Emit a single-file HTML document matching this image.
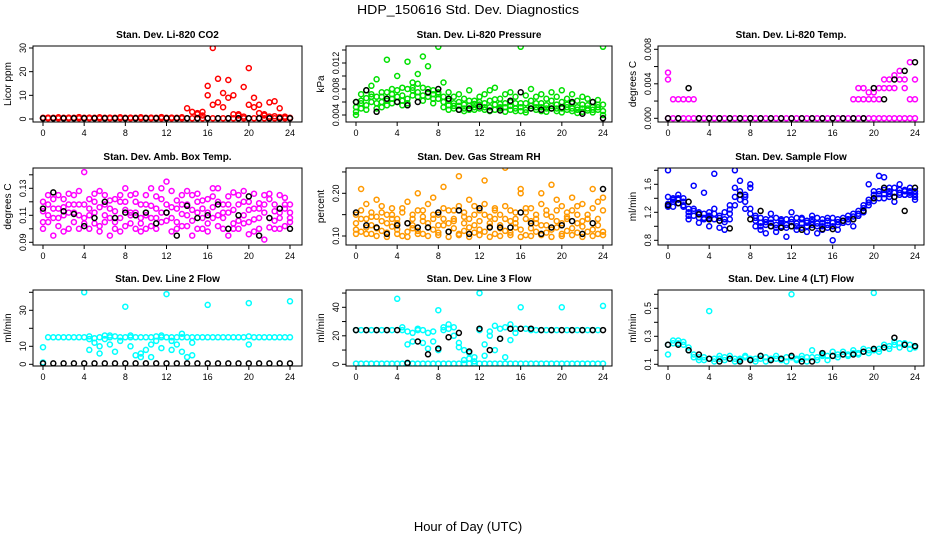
<!DOCTYPE html>
<html><head><meta charset="utf-8"><style>
body{margin:0;background:#fff;}
svg{display:block;font-family:"Liberation Sans",sans-serif;}
</style></head><body>
<svg id="chart" width="936" height="540" viewBox="0 0 936 540" xmlns="http://www.w3.org/2000/svg">
<rect width="936" height="540" fill="#fff"/>
<text x="468" y="14" text-anchor="middle" font-size="13" textLength="222" lengthAdjust="spacingAndGlyphs">HDP_150616  Std. Dev. Diagnostics</text>
<text x="468" y="531" text-anchor="middle" font-size="13">Hour of Day (UTC)</text>
</svg>
<script>
// shared hour grids
const hoursHalf = [0,0.5,1,1.5,2,2.5,3,3.5,4,4.5,5,5.5,6,6.5,7,7.5,8,8.5,9,9.5,10,10.5,11,11.5,12,12.5,13,13.5,14,14.5,15,15.5,16,16.5,17,17.5,18,18.5,19,19.5,20,20.5,21,21.5,22,22.5,23,23.5,24];
const hoursFull = [0,1,2,3,4,5,6,7,8,9,10,11,12,13,14,15,16,17,18,19,20,21,22,23,24];
const xTicks = [0,4,8,12,16,20,24];

// P1 CO2
const co2A = [0.3,0.3,0.3,0.3,0.3,0.3,0.3,0.3,0.3,0.3,0.3,0.3,0.3,0.3,0.3,0.3,0.3,0.3,0.3,0.3,0.3,0.3,0.3,0.3,0.3,0.3,0.3,0.3,0.3,0.3,0.3,0.3,0.3,0.3,0.3,0.3,0.3,0.3,0.3,0.3,0.3,0.3,0.3,0.3,0.3,0.3,0.3,0.3,0.3];
const co2B = [0.5,0.6,0.5,0.7,0.5,0.6,0.5,0.8,0.5,0.6,0.5,0.7,0.5,0.6,0.5,0.7,0.5,0.6,0.5,0.7,0.5,0.6,0.5,0.8,0.5,0.6,0.5,0.7,4.5,3,2,3,14,30,17,11,16.5,10,2,13.5,21.5,9,6,2,7,7.5,4.5,1,0.5];
const co2C = [null,null,null,null,null,null,null,null,null,null,null,null,null,null,null,null,null,null,null,null,null,null,null,null,null,null,null,null,null,null,2.5,1.5,10,6,7,5,9,2,1.5,1,6,5,2.5,1.5,1,1.2,0.8,0.5,null];
const co2K = [0.3,0.3,0.3,0.3,0.3,0.3,0.3,0.3,0.3,0.3,0.3,0.3,0.3,0.3,0.3,0.3,0.3,0.3,0.3,0.3,0.3,0.3,0.3,0.3,0.3];
const co2Ticks = [0,10,20,30];
const co2Labels = ["0","10","20","30"];

// P2 pressure
const presA = [0.0045,0.005,0.0055,0.006,0.005,0.006,0.0055,0.0065,0.006,0.0055,0.0065,0.007,0.0075,0.007,0.0068,0.0065,0.0065,0.006,0.0055,0.005,0.0048,0.005,0.0048,0.0052,0.005,0.0048,0.0046,0.0048,0.005,0.0045,0.0048,0.005,0.0046,0.0048,0.005,0.0048,0.0046,0.0045,0.005,0.0046,0.0044,0.0048,0.0046,0.0043,0.0045,0.0047,0.0044,0.0048,0.0046];
const presB = [0.006,0.0072,0.0078,0.0085,0.0095,0.0075,0.0125,0.008,0.01,0.0082,0.0122,0.009,0.0103,0.013,0.0115,0.0078,0.0145,0.009,0.0075,0.0068,0.0072,0.0065,0.0078,0.0062,0.0068,0.0072,0.0078,0.0082,0.0065,0.0072,0.0075,0.0068,0.0145,0.007,0.008,0.0068,0.0072,0.0065,0.0075,0.0068,0.0078,0.0065,0.0072,0.0062,0.0068,0.0065,0.006,0.0063,0.0145];
const presC = [0.0052,0.0062,0.0066,0.0072,0.0068,0.0068,0.0075,0.0072,0.0078,0.007,0.008,0.0082,0.0088,0.0082,0.008,0.0072,0.0075,0.0068,0.0062,0.0058,0.006,0.0056,0.0062,0.0057,0.006,0.0058,0.0062,0.0064,0.0057,0.0058,0.006,0.0058,0.0058,0.0058,0.0062,0.0058,0.0058,0.0055,0.0062,0.0056,0.006,0.0056,0.0058,0.0052,0.0056,0.0055,0.0052,0.0056,0.0056];
const presD = [0.004,0.0058,0.0048,0.0068,0.0058,0.0052,0.0062,0.0058,0.0068,0.0062,0.0058,0.0078,0.0068,0.0062,0.0074,0.0058,0.0072,0.0052,0.0048,0.0054,0.0054,0.0046,0.0054,0.0048,0.0056,0.0052,0.0052,0.0056,0.0052,0.0052,0.0054,0.0046,0.0052,0.0044,0.0054,0.0052,0.0052,0.005,0.0054,0.005,0.005,0.0052,0.005,0.0048,0.005,0.005,0.0048,0.0052,0.004];
const presK = [0.006,0.0078,0.0045,0.0065,0.006,0.0055,0.006,0.0075,0.008,0.0065,0.0048,0.005,0.0053,0.0047,0.0047,0.0062,0.0075,0.005,0.0048,0.005,0.0052,0.006,0.0042,0.006,0.0035];
const presTicks = [0.004,0.006,0.008,0.010,0.012,0.014];
const presLabels = ["0.004","","0.008","","0.012",""];

// P3 Li-820 temp
const tempA = [0,0,0,0,0,0,0,0,0,0,0,0,0,0,0,0,0,0,0,0,0,0,0,0,0,0,0,0,0,0,0,0,0,0,0,0,0,0,0,0,0,0,0,0,0,0,0,0,0];
const tempB = [0.0045,0.0022,0.0022,0.0022,0.0022,0.0022,null,null,null,null,null,null,null,null,null,null,null,null,null,null,null,null,null,null,null,null,null,null,null,null,null,null,null,null,null,null,null,0.0022,0.0022,0.003,0.003,0.0035,0.0045,0.0045,0.005,0.0055,0.0045,0.0065,0.0022];
const tempC = [0.0053,null,null,null,null,null,null,null,null,null,null,null,null,null,null,null,null,null,null,null,null,null,null,null,null,null,null,null,null,null,null,null,null,null,null,null,0.0022,0.0035,0.0035,0.0022,0.0022,0.0022,0.0035,0.0035,0.0035,0.0045,0.0035,0.0022,0.0045];
const tempK = [0,0,0.0035,0,0,0,0,0,0,0,0,0,0,0,0,0,0,0,0,0,0.0035,0.0022,0.0045,0.0055,0.0065];
const tempTicks = [0,0.002,0.004,0.006,0.008];
const tempLabels = ["0.000","","0.004","","0.008"];

// P4 amb box temp
const ambA = [0.12,0.105,0.115,0.125,0.11,0.1,0.118,0.128,0.108,0.122,0.112,0.098,0.125,0.115,0.105,0.12,0.13,0.11,0.1,0.118,0.125,0.108,0.115,0.122,0.112,0.128,0.105,0.118,0.11,0.125,0.1,0.115,0.122,0.108,0.13,0.112,0.118,0.104,0.125,0.11,0.12,0.098,0.115,0.125,0.108,0.118,0.112,0.102,0.118];
const ambB = [0.1,0.125,0.095,0.108,0.122,0.118,0.105,0.11,0.142,0.1,0.12,0.128,0.105,0.095,0.122,0.108,0.102,0.125,0.12,0.098,0.11,0.13,0.1,0.105,0.135,0.098,0.115,0.102,0.128,0.095,0.12,0.108,0.098,0.124,0.102,0.118,0.095,0.127,0.1,0.12,0.105,0.115,0.1,0.092,0.122,0.1,0.125,0.118,0.108];
const ambC = [0.113,0.118,0.108,0.102,0.116,0.126,0.112,0.1,0.118,0.115,0.104,0.116,0.11,0.121,0.113,0.098,0.114,0.104,0.112,0.108,0.1,0.117,0.124,0.112,0.106,0.116,0.121,0.111,0.102,0.114,0.112,0.121,0.104,0.116,0.11,0.1,0.124,0.114,0.106,0.128,0.096,0.107,0.119,0.112,0.101,0.113,0.108,0.115,0.112];
const ambD = [0.105,0.11,0.122,0.115,0.098,0.112,0.125,0.118,0.104,0.11,0.126,0.102,0.118,0.108,0.1,0.125,0.12,0.112,0.126,0.104,0.118,0.102,0.108,0.13,0.118,0.108,0.1,0.125,0.118,0.106,0.126,0.1,0.112,0.13,0.12,0.108,0.112,0.1,0.118,0.104,0.114,0.126,0.108,0.118,0.126,0.106,0.1,0.123,0.105];
const ambK = [0.115,0.127,0.113,0.111,0.102,0.108,0.12,0.108,0.112,0.11,0.112,0.104,0.112,0.095,0.117,0.108,0.11,0.118,0.1,0.11,0.124,0.095,0.108,0.115,0.1];
const ambTicks = [0.09,0.10,0.11,0.12,0.13,0.14];
const ambLabels = ["0.09","","0.11","","0.13",""];

// P5 gas stream RH
const rhA = [0.115,0.11,0.12,0.105,0.118,0.112,0.108,0.122,0.115,0.1,0.11,0.118,0.112,0.105,0.12,0.115,0.108,0.125,0.11,0.118,0.105,0.112,0.12,0.108,0.115,0.11,0.122,0.105,0.118,0.112,0.108,0.12,0.115,0.102,0.118,0.11,0.125,0.108,0.115,0.12,0.105,0.112,0.118,0.108,0.122,0.11,0.115,0.105,0.11];
const rhB = [0.15,0.16,0.175,0.155,0.145,0.17,0.15,0.165,0.14,0.155,0.18,0.15,0.16,0.145,0.175,0.19,0.15,0.165,0.16,0.14,0.17,0.155,0.185,0.15,0.16,0.175,0.145,0.165,0.15,0.17,0.16,0.14,0.2,0.155,0.165,0.15,0.175,0.16,0.145,0.185,0.17,0.155,0.16,0.15,0.175,0.14,0.165,0.18,0.16];
const rhC = [0.13,0.21,0.14,0.125,0.185,0.135,0.13,0.14,0.13,0.27,0.13,0.125,0.2,0.135,0.13,0.14,0.125,0.215,0.13,0.135,0.24,0.13,0.14,0.125,0.135,0.23,0.13,0.14,0.125,0.26,0.135,0.13,0.21,0.14,0.135,0.13,0.2,0.125,0.22,0.135,0.13,0.14,0.19,0.13,0.135,0.14,0.21,0.125,0.19];
const rhD = [0.105,0.14,0.105,0.145,0.1,0.155,0.098,0.15,0.105,0.165,0.098,0.14,0.105,0.16,0.1,0.15,0.102,0.14,0.098,0.16,0.102,0.145,0.098,0.17,0.102,0.15,0.098,0.16,0.1,0.14,0.102,0.155,0.098,0.165,0.1,0.14,0.102,0.15,0.098,0.16,0.1,0.145,0.102,0.17,0.098,0.15,0.1,0.14,0.102];
const rhK = [0.155,0.125,0.12,0.105,0.125,0.13,0.12,0.12,0.155,0.11,0.16,0.105,0.165,0.12,0.12,0.12,0.155,0.13,0.105,0.12,0.125,0.135,0.105,0.13,0.21];
const rhTicks = [0.10,0.15,0.20,0.25];
const rhLabels = ["0.10","","0.20",""];

// P6 sample flow
const sfA = [1.32,1.35,1.33,1.3,1.2,1.15,1.12,1.1,1.12,1.1,1.08,1.1,1.18,1.3,1.38,1.35,1.25,1.08,1.05,1.02,1.0,1.02,1.0,0.98,1.0,1.0,0.98,1.0,1.02,1.0,1.0,0.98,1.0,1.02,1.05,1.06,1.1,1.15,1.22,1.3,1.36,1.4,1.4,1.42,1.42,1.45,1.45,1.45,1.42];
const sfB = [1.42,1.4,1.38,1.4,1.25,1.22,1.2,1.18,1.2,1.25,1.15,1.2,1.3,1.55,1.5,1.45,1.55,1.15,1.12,1.1,1.1,1.12,1.08,1.1,1.1,1.12,1.1,1.08,1.1,1.12,1.1,1.08,1.12,1.1,1.12,1.15,1.18,1.22,1.3,1.38,1.45,1.5,1.52,1.5,1.55,1.52,1.52,1.5,1.5];
const sfC = [1.8,1.28,1.45,1.35,1.1,1.58,1.05,1.48,1.0,1.75,0.98,0.95,1.1,1.8,1.65,1.25,1.6,1.0,0.95,0.9,1.18,0.92,1.1,0.85,1.2,0.95,1.12,0.92,1.15,0.9,0.95,1.12,0.8,0.95,1.05,1.1,1.0,1.15,1.2,1.6,1.5,1.72,1.7,1.55,1.35,1.6,1.45,1.55,1.38];
const sfD = [1.28,1.38,1.4,1.28,1.15,1.25,1.18,1.12,1.15,1.18,1.12,1.06,1.24,1.42,1.45,1.42,1.18,1.12,1.0,1.06,1.05,0.98,1.05,1.02,1.06,1.04,1.04,1.05,1.06,1.04,1.05,1.02,1.05,1.06,1.08,1.1,1.14,1.18,1.26,1.34,1.4,1.46,1.46,1.46,1.48,1.48,1.5,1.48,1.46];
const sfK = [1.3,1.33,1.35,1.17,1.1,1.08,0.97,1.45,1.1,1.22,1.0,0.98,1.0,0.95,0.98,0.96,0.96,1.08,1.1,1.22,1.4,1.55,1.42,1.22,1.55];
const sfTicks = [0.8,1.0,1.2,1.4,1.6,1.8];
const sfLabels = ["0.8","","1.2","","1.6",""];

// P7 line 2 flow
const l2A = [9.5,15,15,15,15,15,15,15,15,15.5,14.5,15,16,15,15.5,15,15,15,15,15,15,15,15.5,16,15,15,15,15,15,15,15,15,15,15,15,15,15,15,15,15,15.5,15,15,15,15,15,15,15,15];
const l2B = [1,null,null,null,null,null,null,null,40,8,12,6,14,11,7,13,32,10,5,4,8,11,13,9,39,8,11,7,4,12,null,null,33,null,null,null,null,null,null,null,34,null,null,null,null,null,null,null,35];
const l2C = [null,null,null,null,null,null,null,null,null,14,null,10,null,16,null,null,null,16,null,6,null,4,null,15,null,13,null,17,null,5,null,null,null,null,null,null,null,null,null,null,11,null,null,null,null,null,null,null,null];
const l2K = [0.5,0.5,0.5,0.5,0.5,0.5,0.5,0.5,0.5,0.5,0.5,0.5,0.5,0.5,0.5,0.5,0.5,0.5,0.5,0.5,0.5,0.5,0.5,0.5,0.5];
const l2Ticks = [0,10,20,30,40];
const l2Labels = ["0","10","","30",""];

// P8 line 3 flow
const l3A = [0.5,0.5,0.5,0.5,0.5,0.5,0.5,0.5,0.5,0.5,0.5,0.5,0.5,0.5,0.5,0.5,0.5,0.5,0.5,0.5,0.5,0.5,0.5,0.5,0.5,0.5,0.5,0.5,0.5,0.5,0.5,0.5,0.5,0.5,0.5,0.5,0.5,0.5,0.5,0.5,0.5,0.5,0.5,0.5,0.5,0.5,0.5,0.5,0.5];
const l3B = [24,24,24,24,24,24,24,24,46,24,14,16,24,15,22,16,38,24,25,26,12,10,8,5,50,6,20,27,25,5,28,22,40,25,24,24,24,24,24,24,40,24,24,24,24,24,24,24,41];
const l3C = [null,null,null,null,null,null,null,null,null,26,23,22,25,24,11,23,10,26,28,20,15,3,4,2,24,14,23,10,18,26,17,25,null,null,null,null,null,null,null,null,null,null,null,null,null,null,null,null,null];
const l3K = [24,24,24,24,24,1,16,7,11,19,22,9,25,10,18,25,25,25,24,24,24,24,24,24,24];
const l3Ticks = [0,10,20,30,40,50];
const l3Labels = ["0","","20","","40",""];

// P9 line 4 flow
const l4A = [0.17,0.25,0.25,0.24,0.2,0.17,0.15,0.15,0.14,0.14,0.14,0.15,0.14,0.14,0.14,0.15,0.14,0.14,0.14,0.15,0.14,0.14,0.14,0.15,0.15,0.14,0.14,0.15,0.15,0.15,0.16,0.16,0.16,0.17,0.17,0.17,0.18,0.18,0.19,0.2,0.2,0.21,0.22,0.23,0.24,0.25,0.24,0.24,0.23];
const l4B = [0.24,0.27,0.27,0.26,0.22,0.15,0.13,0.13,0.48,0.12,0.16,0.13,0.16,0.12,0.13,0.16,0.13,0.12,0.16,0.12,0.13,0.16,0.13,0.12,0.6,0.13,0.16,0.12,0.2,0.13,0.17,0.13,0.19,0.15,0.19,0.16,0.2,0.17,0.21,0.18,0.61,0.19,0.24,0.21,0.26,0.22,0.25,0.21,0.22];
const l4K = [0.24,0.24,0.2,0.17,0.14,0.12,0.14,0.12,0.13,0.16,0.13,0.14,0.16,0.12,0.12,0.18,0.16,0.17,0.17,0.19,0.21,0.22,0.29,0.24,0.23];
const l4Ticks = [0.1,0.2,0.3,0.4,0.5,0.6];
const l4Labels = ["0.1","","0.3","","0.5",""];

const panels = [
 {id:'co2',title:'Stan. Dev. Li-820 CO2',yt:'Licor ppm',col:0,row:0,v0:0,p0:119,v1:30,p1:48,color:'#ff0000',series:[co2A,co2B,co2C],k:co2K,ticks:co2Ticks,labels:co2Labels},
 {id:'pressure',title:'Stan. Dev. Li-820 Pressure',yt:'kPa',col:1,row:0,v0:0.004,p0:115,v1:0.012,p1:63,color:'#00e000',series:[presA,presC,presD,presB],k:presK,ticks:presTicks,labels:presLabels},
 {id:'li820-temp',title:'Stan. Dev. Li-820 Temp.',yt:'degrees C',col:2,row:0,v0:0,p0:118.3,v1:0.008,p1:49.3,color:'#ff00ff',series:[tempA,tempB,tempC],k:tempK,ticks:tempTicks,labels:tempLabels},
 {id:'amb-box-temp',title:'Stan. Dev. Amb. Box Temp.',yt:'degrees C',col:0,row:1,v0:0.09,p0:242.3,v1:0.13,p1:188.3,color:'#ff00ff',series:[ambA,ambB,ambC,ambD],k:ambK,ticks:ambTicks,labels:ambLabels},
 {id:'gas-stream-rh',title:'Stan. Dev. Gas Stream RH',yt:'percent',col:1,row:1,v0:0.10,p0:236,v1:0.20,p1:193.3,color:'#ff9900',series:[rhA,rhB,rhC,rhD],k:rhK,ticks:rhTicks,labels:rhLabels},
 {id:'sample-flow',title:'Stan. Dev. Sample Flow',yt:'ml/min',col:2,row:1,v0:0.8,p0:240.3,v1:1.6,p1:184.3,color:'#0000ff',series:[sfA,sfB,sfC,sfD],k:sfK,ticks:sfTicks,labels:sfLabels},
 {id:'line2-flow',title:'Stan. Dev. Line 2 Flow',yt:'ml/min',col:0,row:2,v0:0,p0:364.3,v1:30,p1:310.3,color:'#00ffff',series:[l2A,l2B,l2C],k:l2K,ticks:l2Ticks,labels:l2Labels},
 {id:'line3-flow',title:'Stan. Dev. Line 3 Flow',yt:'ml/min',col:1,row:2,v0:0,p0:364.3,v1:40,p1:307.3,color:'#00ffff',series:[l3A,l3B,l3C],k:l3K,ticks:l3Ticks,labels:l3Labels},
 {id:'line4-flow',title:'Stan. Dev. Line 4 (LT) Flow',yt:'ml/min',col:2,row:2,v0:0.1,p0:364.3,v1:0.5,p1:308.3,color:'#00ffff',series:[l4A,l4B],k:l4K,ticks:l4Ticks,labels:l4Labels}
];
const boxLefts=[33,346,658], boxRights=[302,612,924];
const boxTops=[46,168,290], boxBottoms=[122,245,366];
const NS='http://www.w3.org/2000/svg';
const svg=document.getElementById('chart');
function mk(tag,attrs,parent){const e=document.createElementNS(NS,tag);for(const k in attrs)e.setAttribute(k,attrs[k]);(parent||svg).appendChild(e);return e;}

panels.forEach(p=>{
  const L=boxLefts[p.col],R=boxRights[p.col],T=boxTops[p.row],B=boxBottoms[p.row];
  const x0=L+10,x24=L+257;
  const xs=h=>x0+(x24-x0)*h/24;
  const ys=v=>p.p0+(v-p.v0)*(p.p1-p.p0)/(p.v1-p.v0);
  const g=mk('g',{});
  
  
  const t=mk('text',{x:(L+R)/2,y:T-8,'text-anchor':'middle','font-size':'10','font-weight':'bold'},g);
  
  
  t.textContent=p.title;
  const yt=mk('text',{x:0,y:0,'text-anchor':'middle','font-size':'10',transform:`translate(${L-22},${(T+B)/2}) rotate(-90)`},g);
  
  
  yt.textContent=p.yt;
  const cp=mk('clipPath',{id:'clip-'+p.id},g);
  mk('rect',{x:L,y:T,width:R-L,height:B-T},cp);
  const marks=mk('g',{'clip-path':`url(#clip-${p.id})`},g);
  
  
  p.series.forEach((arr,si)=>{
    arr.forEach((v,i)=>{
      if(v===null)return;
      const c=mk('circle',{cx:xs(hoursHalf[i]).toFixed(1),cy:ys(v).toFixed(1),r:2.5,fill:'none',stroke:p.color,'stroke-width':1.5},marks);
      
      
    });
  });
  p.k.forEach((v,i)=>{
    const c=mk('circle',{cx:xs(hoursFull[i]).toFixed(1),cy:ys(v).toFixed(1),r:2.5,fill:'none',stroke:'#000','stroke-width':1.5},marks);
    
    
  });
  const box=mk('rect',{x:L,y:T,width:R-L,height:B-T,fill:'none',stroke:'#000','stroke-width':1},g);
  
  
  const ax=mk('g',{},g);
  
  
  xTicks.forEach(h=>{
    const x=xs(h);
    mk('line',{x1:x,x2:x,y1:B,y2:B+4,stroke:'#000'},ax);
    const lb=mk('text',{x:x,y:B+14,'text-anchor':'middle','font-size':'9'},ax);
    
    
    lb.textContent=String(h);
  });
  const ay=mk('g',{},g);
  
  
  p.ticks.forEach((v,i)=>{
    const y=ys(v);
    mk('line',{x1:L-4,x2:L,y1:y,y2:y,stroke:'#000'},ay);
    if(p.labels[i]){
      const lb=mk('text',{x:0,y:0,'text-anchor':'middle','font-size':'9',transform:`translate(${L-7},${y}) rotate(-90)`},ay);
      
      
      lb.textContent=p.labels[i];
    }
  });
});
</script>
</body></html>
